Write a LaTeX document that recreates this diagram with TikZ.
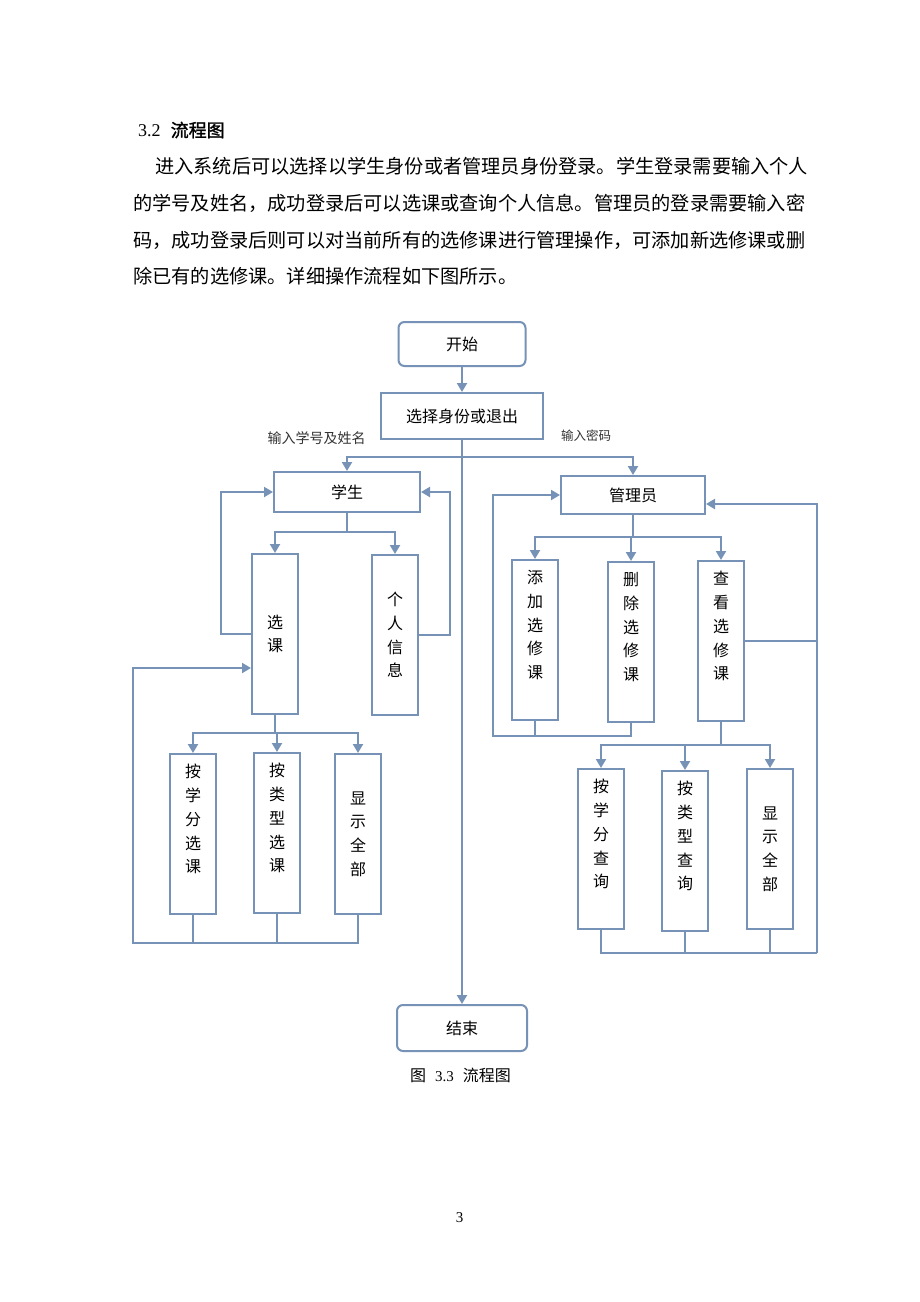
\documentclass[tikz,border=0pt]{standalone}
\usepackage{fontspec}
\setmainfont{Noto Sans CJK SC}
\newfontfamily\lat{Liberation Serif}
\newfontfamily\hei[FakeBold=1.5]{Noto Sans CJK SC}
\usetikzlibrary{arrows.meta}
\definecolor{flow}{RGB}{118,146,182}
\tikzset{
	term/.style={draw=flow, line width=2pt, rounded corners=6pt, inner sep=0pt, font=\fontsize{16}{20}\selectfont},
	procbox/.style={draw=flow, line width=2pt, inner sep=0pt, font=\fontsize{16}{20}\selectfont},
	vbox/.style={draw=flow, line width=2pt, inner sep=0pt, minimum width=46pt, minimum height=160pt, align=center, font=\fontsize{16}{23.7}\selectfont},
	wire/.style={draw=flow, line width=2pt},
	link/.style={wire, -{Triangle[length=9pt,width=10pt]}},
	para/.style={anchor=west, inner sep=0pt, font=\fontsize{19.2}{23}\selectfont},
	tag/.style={inner sep=0pt, text=black!80}
}
\begin{document}
\begin{tikzpicture}[x=1pt,y=-1pt]
	\fill[white] (0,0) rectangle (920,1302);
	\useasboundingbox (0,0) rectangle (920,1302);
	% page text
	\node (head) at (138,130)	[para, font=\fontsize{18}{22}\selectfont]	{{\lat 3.2}\hspace{10pt}{\hei 流程图}};
	\node (p1) at (155,166)	[para]	{进入系统后可以选择以学生身份或者管理员身份登录。学生登录需要输入个人};
	\node (p2) at (133,203)	[para]	{的学号及姓名，成功登录后可以选课或查询个人信息。管理员的登录需要输入密};
	\node (p3) at (133,240)	[para]	{码，成功登录后则可以对当前所有的选修课进行管理操作，可添加新选修课或删};
	\node (p4) at (133,276)	[para]	{除已有的选修课。详细操作流程如下图所示。};
	% boxes
	\node (start) at (462,344)	[term, minimum width=127pt, minimum height=44pt]	{开始};
	\node (choose) at (462,416)	[procbox, minimum width=162pt, minimum height=46pt]	{选择身份或退出};
	\node (stu) at (347,492)	[procbox, minimum width=146pt, minimum height=40pt]	{学生};
	\node (adm) at (633,495)	[procbox, minimum width=144pt, minimum height=38pt]	{管理员};
	\node (pick) at (275,634)	[vbox]	{选\\课};
	\node (info) at (395,635)	[vbox]	{个\\人\\信\\息};
	\node (byc) at (193,834)	[vbox]	{按\\学\\分\\选\\课\\\strut};
	\node (byt) at (277,833)	[vbox]	{按\\类\\型\\选\\课\\\strut};
	\node (alls) at (358,834)	[vbox]	{显\\示\\全\\部};
	\node (add) at (535,640)	[vbox]	{添\\加\\选\\修\\课\\\strut};
	\node (del) at (631,642)	[vbox]	{删\\除\\选\\修\\课\\\strut};
	\node (view) at (721,641)	[vbox]	{查\\看\\选\\修\\课\\\strut};
	\node (qc) at (601,849)	[vbox]	{按\\学\\分\\查\\询\\\strut};
	\node (qt) at (685,851)	[vbox]	{按\\类\\型\\查\\询\\\strut};
	\node (qa) at (770,849)	[vbox]	{显\\示\\全\\部};
	\node (end) at (462,1028)	[term, minimum width=130pt, minimum height=46pt]	{结束};
	% labels
	\node (stulab) at (316.7,438)	[tag, font=\fontsize{14}{16}\selectfont]	{输入学号及姓名};
	\node (admlab) at (586,436)	[tag, font=\fontsize{12.5}{16}\selectfont]	{输入密码};
	% forks
	\coordinate (fork) at (462,457);
	\coordinate (pickfork) at (347,532);
	\coordinate (subfork) at (275,733);
	\coordinate (sback) at (133,943);
	\coordinate (admfork) at (633,537);
	\coordinate (aback) at (493,736);
	\coordinate (viewfork) at (721,745);
	\coordinate (qback) at (817,953);
	% connectors
	\draw[link] (start) -- (choose);
	\draw[link] (choose) -- (end);
	\draw[link] (fork) -| (stu);
	\draw[link] (fork) -| (adm);
	\draw[wire] (stu) -- (pickfork);
	\draw[link] (pickfork) -| (pick);
	\draw[link] (pickfork) -| (info);
	\draw[link] (pick.west) -- ++(-30,0) |- (stu.west);
	\draw[link] (info.east) -- ++(31,0) |- (stu.east);
	\draw[wire] (pick) -- (subfork);
	\draw[link] (subfork) -| (byc);
	\draw[link] (subfork) -| (byt);
	\draw[link] (subfork) -| (alls);
	\draw[wire] (byc) -- (byc.south |- sback);
	\draw[wire] (byt) -- (byt.south |- sback);
	\draw[link] (alls) |- (sback) |- ([yshift=-34pt]pick.west);
	\draw[wire] (adm) -- (admfork);
	\draw[link] (admfork) -| (add);
	\draw[link] (admfork) -| (del);
	\draw[link] (admfork) -| (view);
	\draw[wire] (add) -- (add.south |- aback);
	\draw[link] (del) |- (aback) |- (adm.west);
	\draw[wire] (view) -- (viewfork);
	\draw[link] (viewfork) -| (qc);
	\draw[link] (viewfork) -| (qt);
	\draw[link] (viewfork) -| (qa);
	\draw[wire] (qc) |- (qback);
	\draw[wire] (qt) -- (qt.south |- qback);
	\draw[wire] (qa) -- (qa.south |- qback);
	\draw[link] (qback) |- ([yshift=-9pt]adm.east);
	\draw[wire] (view.east) -- (view.east -| qback);
	% caption and page number
	\node (cap) at (410,1075)	[para, font=\fontsize{16}{20}\selectfont]	{图\hspace{9pt}{\lat\fontsize{15}{16}\selectfont 3.3}\hspace{9pt}流程图};
	\node (pageno) at (459.5,1218)	[inner sep=0pt, font=\lat\fontsize{15}{18}\selectfont]	{3};
\end{tikzpicture}
\end{document}
